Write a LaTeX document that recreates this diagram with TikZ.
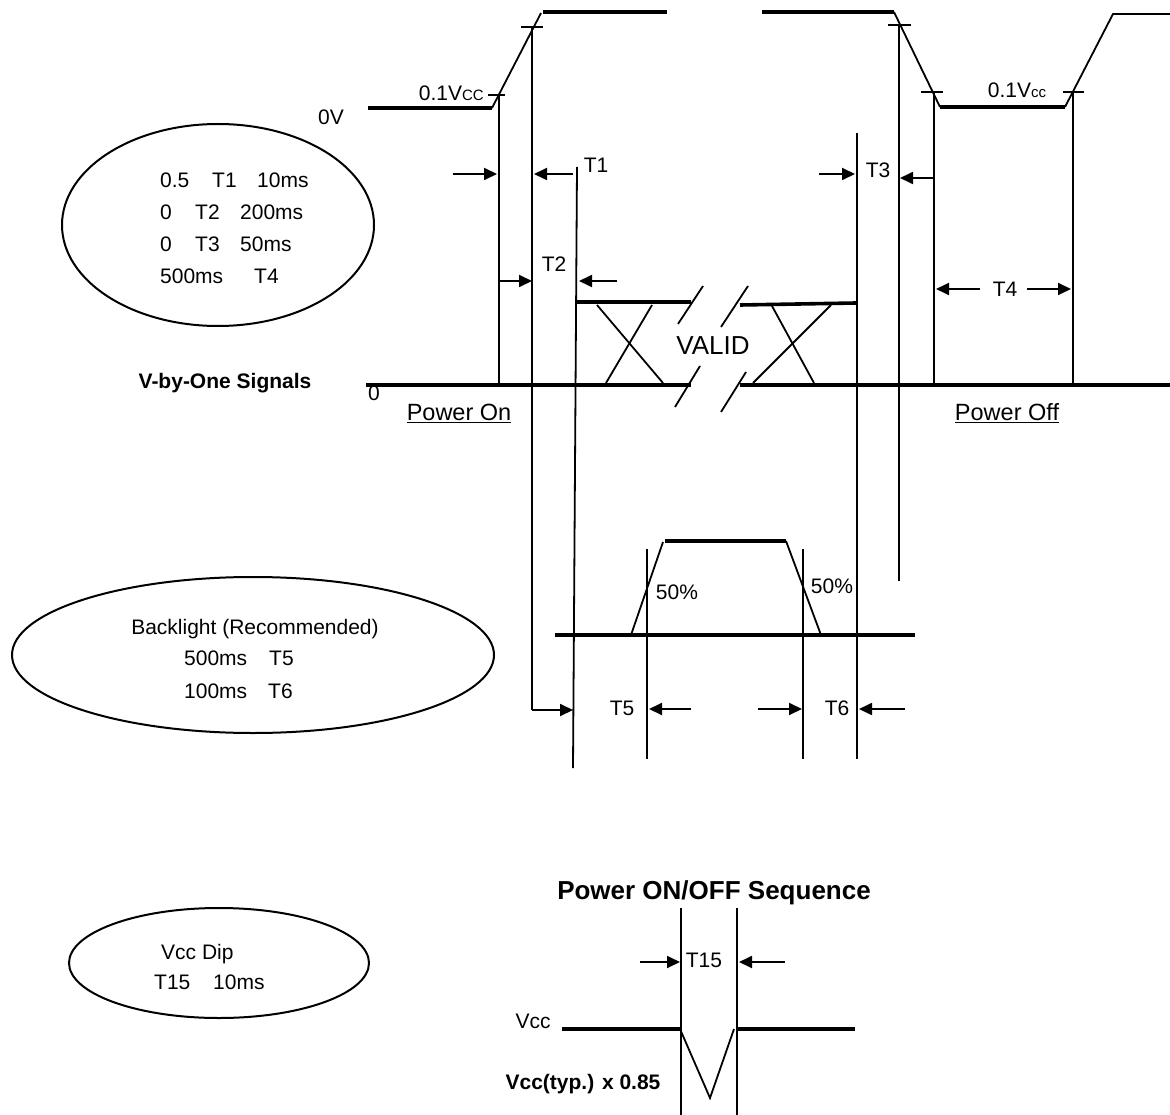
\documentclass[tikz,border=0pt]{standalone}
\usepackage{fontspec}
\setmainfont{Liberation Sans}
\usetikzlibrary{arrows.meta}
\begin{document}
\begin{tikzpicture}[x=1pt,y=-1pt,
  thk/.style={line width=3.6pt},
  thn/.style={line width=1.8pt},
  arr/.style={thn,-{Triangle[length=13pt,width=12pt]}},
  lbl/.style={inner sep=0pt,font=\fontsize{21}{25}\selectfont,text height=15pt,text depth=0pt},
  blbl/.style={lbl,font=\fontsize{21}{25}\selectfont\bfseries},
  oval/.style={draw,line width=2pt}]
\useasboundingbox (0,0) rectangle (1170,1115);

% ---------- Vcc waveform (top) ----------
\draw[thk] (368,108) -- (492,108);
\draw[thn] (492,108) -- (541,13);
\draw[thk] (543,12) -- (667,12);
\draw[thk] (762,12) -- (894,12);
\draw[thn] (894,12) -- (940,107);
\draw[thk] (940,107) -- (1065,107);
\draw[thn] (1065,107) -- (1113,14) -- (1170,14);
% ticks
\draw[thn] (488,95) -- (505,95);
\draw[thn] (521,27) -- (543,27);
\draw[thn] (888,25) -- (911,25);
\draw[thn] (921,92) -- (943,92);
\draw[thn] (1063,92) -- (1084,92);
\node[lbl,anchor=east] (v1) at (484,93) {0.1V{\fontsize{15}{18}\selectfont CC}};
\node[lbl] (v2) at (1017,90) {0.1V{\fontsize{15}{18}\selectfont cc}};
\node[lbl] (zv) at (331,117) {0V};

% ---------- vertical marker lines ----------
\draw[thn] (499,95) -- (499,385);
\draw[thn] (532,27) -- (532,710);
\draw[arr] (532,710) -- (573,710);
\draw[thn] (577,167) -- (573,768);
\draw[thn] (857,133) -- (857,759);
\draw[thn] (899,25) -- (899,581);
\draw[thn] (934,92) -- (934,385);
\draw[thn] (1073,92) -- (1073,385);

% T1
\draw[arr] (453,174) -- (497,174);
\draw[arr] (573,174) -- (534,174);
\node[lbl] (t1) at (596,165) {T1};
% T2
\draw[arr] (498,281) -- (532,281);
\draw[arr] (617,281) -- (579,281);
\node[lbl] (t2) at (554,264) {T2};
% T3
\draw[arr] (819,174) -- (855,174);
\draw[arr] (933,178) -- (900,178);
\node[lbl] (t3) at (878,170) {T3};
% T4
\draw[arr] (980,289) -- (936,289);
\draw[arr] (1027,289) -- (1071,289);
\node[lbl] (t4) at (1005,289) {T4};

% ---------- data bus ----------
\draw[thk] (366,385) -- (691,385);
\draw[thk] (740,385) -- (1170,385);
\draw[thk] (577,302) -- (691,302);
\draw[thk] (740,305) -- (856,303);
\draw[thn] (597,305) -- (663,383);
\draw[thn] (652,305) -- (606,383);
\draw[thn] (772,306) -- (814,383);
\draw[thn] (831,305) -- (753,383);
\draw[thn] (678,324) -- (703,286);
\draw[thn] (721,327) -- (748,286);
\draw[thn] (675,407) -- (700,366);
\draw[thn] (721,412) -- (746,372);
\node[lbl,font=\fontsize{26}{30}\selectfont,text height=18.6pt] (valid) at (713,345) {VALID};

\node[blbl] (vbo) at (225,381) {V-by-One Signals};
\node[lbl] (z0) at (374,393) {0};
\node[lbl,font=\fontsize{23.5}{28}\selectfont,text height=17pt] (pon) at (459,412) {\underline{Power On}};
\node[lbl,font=\fontsize{23.5}{28}\selectfont,text height=17pt] (poff) at (1007,412) {\underline{Power Off}};

% ---------- backlight ----------
\draw[thk] (555,635) -- (915,635);
\draw[thn] (631,635) -- (663,542);
\draw[thk] (665,541) -- (786,541);
\draw[thn] (786,541) -- (821,635);
\draw[thn] (647,549) -- (647,759);
\draw[thn] (803,549) -- (803,759);
\node[lbl] (p50a) at (677,592) {50\%};
\node[lbl] (p50b) at (832,586) {50\%};
\node[lbl] (t5) at (622,708) {T5};
\node[lbl] (t6) at (837,708) {T6};
\draw[arr] (691,709) -- (649,709);
\draw[arr] (758,709) -- (802,709);
\draw[arr] (905,709) -- (859,709);

% ---------- ellipses ----------
\draw[oval] (218,225) ellipse [x radius=156, y radius=101];
\node[lbl,anchor=west] (a1) at (160,180) {0.5};
\node[lbl,anchor=west] (a2) at (212,180) {T1};
\node[lbl,anchor=west] (a3) at (257,180) {10ms};
\node[lbl,anchor=west] (b1) at (160,212) {0};
\node[lbl,anchor=west] (b2) at (195,212) {T2};
\node[lbl,anchor=west] (b3) at (240,212) {200ms};
\node[lbl,anchor=west] (c1) at (160,244) {0};
\node[lbl,anchor=west] (c2) at (195,244) {T3};
\node[lbl,anchor=west] (c3) at (240,244) {50ms};
\node[lbl,anchor=west] (d1) at (160,276) {500ms};
\node[lbl,anchor=west] (d2) at (254,276) {T4};

\draw[oval] (253,655) ellipse [x radius=241, y radius=78];
\node[lbl] (bl) at (255,627) {Backlight (Recommended)};
\node[lbl,anchor=west] (e1) at (184,658) {500ms};
\node[lbl,anchor=west] (e2) at (269,658) {T5};
\node[lbl,anchor=west] (f1) at (184,691) {100ms};
\node[lbl,anchor=west] (f2) at (268,691) {T6};

\draw[oval] (219,963) ellipse [x radius=150, y radius=55];
\node[lbl,anchor=west] (g1) at (161,952) {Vcc Dip};
\node[lbl,anchor=west] (h1) at (154,982) {T15};
\node[lbl,anchor=west] (h2) at (213,982) {10ms};

% ---------- Vcc dip ----------
\node[blbl,font=\fontsize{26}{30}\selectfont\bfseries,text height=18.6pt] (seq) at (714,890) {Power ON/OFF Sequence};
\draw[thn] (681,908) -- (681,1115);
\draw[thn] (737,908) -- (737,1115);
\draw[arr] (640,962) -- (680,962);
\draw[arr] (785,962) -- (739,962);
\node[lbl] (t15) at (704,960) {T15};
\draw[thk] (562,1029) -- (680,1029);
\draw[thn] (680,1029) -- (710,1098) -- (734,1029);
\draw[thk] (737,1029) -- (855,1029);
\node[lbl] (vcc) at (533,1021) {Vcc};
\node[blbl] (typ) at (583,1082) {Vcc(typ.) x 0.85};
\end{tikzpicture}
\end{document}
